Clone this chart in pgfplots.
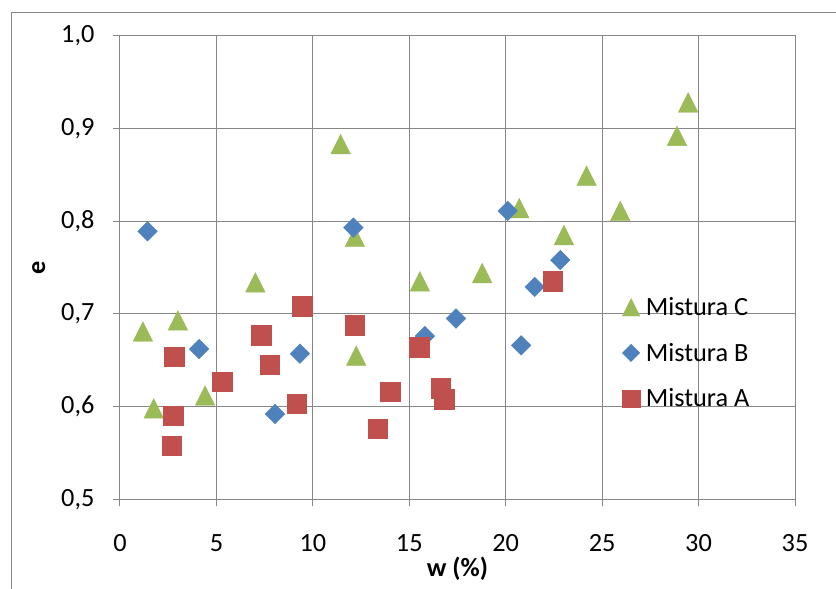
\documentclass[border=0pt]{standalone}
\usepackage{fontspec}
\setmainfont{Carlito}
\usepackage{pgfplots}
\pgfplotsset{compat=1.18}

\definecolor{gridgray}{HTML}{878787}
\definecolor{mixA}{HTML}{C0504D}
\definecolor{mixB}{HTML}{4F81BD}
\definecolor{mixC}{HTML}{9BBB59}

% Spreadsheet-style markers: equal width and height, centred on the point
\pgfdeclareplotmark{xltri}{%
  \pgfpathmoveto{\pgfqpoint{0pt}{\pgfplotmarksize}}%
  \pgfpathlineto{\pgfqpoint{-\pgfplotmarksize}{-\pgfplotmarksize}}%
  \pgfpathlineto{\pgfqpoint{\pgfplotmarksize}{-\pgfplotmarksize}}%
  \pgfpathclose\pgfusepathqfillstroke}
\pgfdeclareplotmark{xldia}{%
  \pgfpathmoveto{\pgfqpoint{0pt}{\pgfplotmarksize}}%
  \pgfpathlineto{\pgfqpoint{\pgfplotmarksize}{0pt}}%
  \pgfpathlineto{\pgfqpoint{0pt}{-\pgfplotmarksize}}%
  \pgfpathlineto{\pgfqpoint{-\pgfplotmarksize}{0pt}}%
  \pgfpathclose\pgfusepathqfillstroke}

\newcommand{\chartfont}{\fontsize{26.3}{31}\selectfont}

\begin{document}
\begin{tikzpicture}
\useasboundingbox (-120pt,-89.7pt) rectangle (716pt,499.3pt);
% chart area frame
\draw[gridgray, line width=1pt] (-108pt,-120pt) -- (-108pt,486.3pt) -- (760pt,486.3pt);
\begin{axis}[
  scale only axis,
  width=675pt, height=463.6pt,
  xmin=0, xmax=35, ymin=0.5, ymax=1.0,
  xtick={0,5,...,35},
  ytick={0.5,0.6,0.7,0.8,0.9,1.0},
  grid=major,
  major grid style={gridgray, line width=1pt},
  axis line style={gridgray, line width=1pt},
  tick style={gridgray, line width=1pt},
  tick align=outside,
  major tick length=7pt,
  xtick pos=bottom, ytick pos=left,
  ticklabel style={font=\chartfont, text=black},
  /pgf/number format/assume math mode=true,
  yticklabel style={/pgf/number format/use comma, /pgf/number format/fixed,
    /pgf/number format/fixed zerofill, /pgf/number format/precision=1,
    xshift=-15pt},
  xticklabel style={yshift=-25pt},
  xlabel={\textbf{w (\%)}},
  ylabel={\textbf{e}},
  label style={font=\chartfont},
  xlabel style={yshift=2pt},
  ylabel style={yshift=9pt},
  legend style={at={(0.744,0.440)}, anchor=north west, draw=none, fill=none,
    font=\chartfont, row sep=22pt, column sep=4pt, inner sep=0pt},
  legend cell align=left,
  legend image code/.code={\draw[mark repeat=2,mark phase=2,#1] plot coordinates {(0pt,0pt) (9pt,0pt) (18pt,0pt)};},
  legend image post style={mark size=8.7pt},
  every axis plot/.append style={only marks, mark size=9.8pt, line width=0.4pt},
]
\addplot[color=mixC, mark=xltri] coordinates {
  (1.19,0.681) (1.75,0.598) (3.00,0.693) (4.41,0.612) (7.02,0.734)
  (11.44,0.883) (12.18,0.783) (12.25,0.655) (15.55,0.735) (18.78,0.744)
  (20.70,0.814) (23.02,0.785) (24.19,0.849) (25.94,0.811) (28.88,0.892)
  (29.46,0.928)
};
\addlegendentry{Mistura C}
\addplot[color=mixB, mark=xldia] coordinates {
  (1.43,0.789) (4.10,0.662) (8.04,0.592) (9.33,0.657) (12.10,0.793)
  (15.81,0.676) (17.42,0.695) (20.10,0.811) (20.80,0.666) (21.50,0.729)
  (22.83,0.758)
};
\addlegendentry{Mistura B}
\addplot[color=mixA, mark=square*] coordinates {
  (2.68,0.558) (2.75,0.590) (2.80,0.654) (5.30,0.627) (7.33,0.677)
  (7.76,0.645) (9.16,0.603) (9.45,0.708) (12.17,0.688) (13.37,0.576)
  (14.00,0.616) (15.52,0.664) (16.62,0.620) (16.81,0.608) (22.43,0.735)
};
\addlegendentry{Mistura A}
\end{axis}
\end{tikzpicture}
\end{document}
